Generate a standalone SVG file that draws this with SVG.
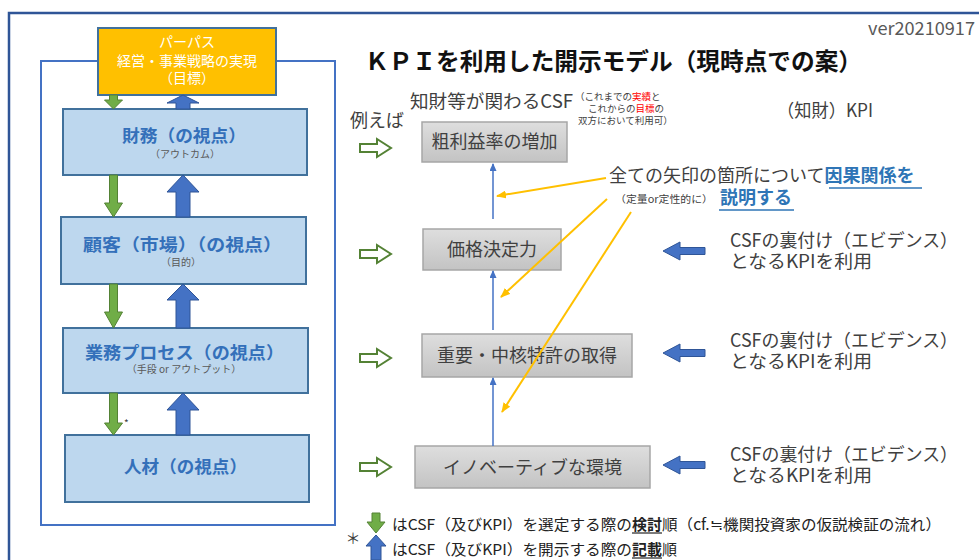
<svg xmlns="http://www.w3.org/2000/svg" width="979" height="560" viewBox="0 0 979 560">
<style>
text{font-family:'Noto Sans CJK JP','Noto Sans',sans-serif;}
.frame{fill:none;stroke:#2F5597;stroke-width:2.5}
.inner{fill:none;stroke:#4472C4;stroke-width:2}
.persp{fill:#BDD7EE;stroke:#41719C;stroke-width:2}
.ptitle{font-size:17px;font-weight:bold;fill:#3470BA}
.psub{font-size:10px;fill:#595959;text-anchor:middle}
.gbox{fill:url(#gg);stroke:#A6A6A6;stroke-width:1.5}
.gtxt{font-size:18px;fill:#404040;text-anchor:middle}
.txt{font-size:18px;fill:#404040}
.note{font-size:9.5px;fill:#404040}
.red{fill:#FF0000}
.garr{fill:#70AD47;stroke:#548235;stroke-width:1}
.barr{fill:#4472C4;stroke:#2F5597;stroke-width:1}
.hollow{fill:#fff;stroke:#548235;stroke-width:2}
.thin{stroke:#4472C4;stroke-width:1.5;fill:none;marker-end:url(#bh)}
.orng{stroke:#FFC000;stroke-width:2;fill:none;marker-end:url(#oh)}
.ul{stroke:#2E75B6;stroke-width:1.5}
.blu{font-weight:bold;fill:#2E75B6}
</style>
<defs>
<linearGradient id="gg" x1="0" y1="0" x2="0" y2="1">
<stop offset="0" stop-color="#DEDEDE"/>
<stop offset="1" stop-color="#C3C3C3"/>
</linearGradient>
<marker id="bh" markerUnits="userSpaceOnUse" markerWidth="8" markerHeight="7" refX="7" refY="3.5" orient="auto">
<path d="M0,0 L8,3.5 L0,7 Z" fill="#4472C4"/>
</marker>
<marker id="oh" markerUnits="userSpaceOnUse" markerWidth="10" markerHeight="8" refX="9" refY="4" orient="auto">
<path d="M0,0 L10,4 L0,8 Z" fill="#FFC000"/>
</marker>
</defs>
<rect width="979" height="560" fill="#fff"/>
<path class="frame" d="M9,560 V13 H979"/>
<text x="975" y="35" font-size="18" fill="#595959" text-anchor="end" textLength="107" lengthAdjust="spacingAndGlyphs">ver20210917</text>
<text x="365" y="70" font-size="24" font-weight="bold" fill="#111" textLength="497" lengthAdjust="spacingAndGlyphs">ＫＰＩを利用した開示モデル（現時点での案）</text>

<rect class="inner" x="41" y="61" width="294" height="464"/>

<g id="purpose">
<rect x="98" y="28" width="178" height="67" fill="#FFC000" stroke="#41719C" stroke-width="2"/>
<text x="187" y="47" font-size="14" fill="#fff" text-anchor="middle">パーパス</text>
<text x="187" y="66" font-size="14" fill="#fff" text-anchor="middle">経営・事業戦略の実現</text>
<text x="187" y="83" font-size="14" fill="#fff" text-anchor="middle">（目標）</text>
</g>
<g id="finance">
<rect class="persp" x="63" y="109" width="244" height="66"/>
<text class="ptitle" x="122" y="142" textLength="124" lengthAdjust="spacingAndGlyphs">財務（の視点）</text>
<text class="psub" x="185" y="158">（アウトカム）</text>
</g>
<g id="customer">
<rect class="persp" x="61" y="217" width="245" height="67"/>
<text class="ptitle" x="83" y="251" textLength="199" lengthAdjust="spacingAndGlyphs">顧客（市場）（の視点）</text>
<text class="psub" x="181" y="266">（目的）</text>
</g>
<g id="process">
<rect class="persp" x="63" y="328" width="245" height="65"/>
<text class="ptitle" x="85" y="359" textLength="199" lengthAdjust="spacingAndGlyphs">業務プロセス（の視点）</text>
<text class="psub" x="184" y="373">（手段 or アウトプット）</text>
</g>
<g id="people">
<rect class="persp" x="65" y="435" width="244" height="67"/>
<text class="ptitle" x="124" y="473" textLength="123" lengthAdjust="spacingAndGlyphs">人材（の視点）</text>
</g>

<g id="csf1">
<rect class="gbox" x="422" y="122" width="145" height="40"/>
<text class="gtxt" x="494.5" y="148">粗利益率の増加</text>
</g>
<g id="csf2">
<rect class="gbox" x="423" y="229" width="138" height="41"/>
<text class="gtxt" x="492" y="256">価格決定力</text>
</g>
<g id="csf3">
<rect class="gbox" x="422" y="334" width="210" height="43"/>
<text class="gtxt" x="527" y="362">重要・中核特許の取得</text>
</g>
<g id="csf4">
<rect class="gbox" x="415" y="446" width="235" height="42"/>
<text class="gtxt" x="532.5" y="474">イノベーティブな環境</text>
</g>

<g id="connectors">
<path class="garr" d="M109.5,95 H117.5 V100 H122.5 L113.5,109 L104.5,100 H109.5 Z"/>
<path class="garr" d="M109.5,175 H117.5 V203 H122.5 L113.5,217 L104.5,203 H109.5 Z"/>
<path class="garr" d="M109.5,284 H117.5 V312 H122.5 L113.5,328 L104.5,312 H109.5 Z"/>
<path class="garr" d="M109.5,393 H117.5 V423 H122.5 L113.5,435 L104.5,423 H109.5 Z"/>
<path class="barr" d="M176,109 V103 H167 L183,95 L199,103 H190 V109 Z"/>
<path class="barr" d="M176,217 V192 H167 L183,175 L199,192 H190 V217 Z"/>
<path class="barr" d="M176,328 V300 H167 L183,284 L199,300 H190 V328 Z"/>
<path class="barr" d="M176,435 V410 H167 L183,393 L199,410 H190 V435 Z"/>
<line class="thin" x1="493" y1="219" x2="493" y2="164"/>
<line class="thin" x1="493" y1="330" x2="493" y2="271"/>
<line class="thin" x1="493" y1="446" x2="493" y2="378"/>
<line class="orng" x1="606" y1="178" x2="497" y2="196"/>
<line class="orng" x1="607" y1="199" x2="501" y2="297"/>
<line class="orng" x1="631" y1="212" x2="502" y2="412"/>
<path class="hollow" d="M360,144 H377 V139 L391,148 L377,157 V152 H360 Z"/>
<path class="hollow" d="M360,250 H377 V245 L391,254 L377,263 V258 H360 Z"/>
<path class="hollow" d="M360,354 H377 V349 L391,358 L377,367 V362 H360 Z"/>
<path class="hollow" d="M360,463 H377 V458 L391,467 L377,476 V471 H360 Z"/>
<path class="barr" d="M705,247.5 H680 V242 L663,251 L680,260 V254.5 H705 Z"/>
<path class="barr" d="M705,349.5 H680 V344 L663,353 L680,362 V356.5 H705 Z"/>
<path class="barr" d="M705,461.5 H680 V456 L663,465 L680,474 V468.5 H705 Z"/>
</g>

<text x="124" y="427" font-size="10" fill="#404040">*</text>

<text class="txt" x="350" y="127">例えば</text>
<text class="txt" x="410" y="108" textLength="163" lengthAdjust="spacingAndGlyphs">知財等が関わるCSF</text>
<text class="note" x="575" y="100">（これまでの<tspan class="red">実績</tspan>と</text>
<text class="note" x="588" y="112">これからの<tspan class="red">目標</tspan>の</text>
<text class="note" x="578" y="124">双方において利用可）</text>
<text class="txt" x="777" y="117" font-size="17" textLength="96" lengthAdjust="spacingAndGlyphs">（知財）KPI</text>

<text class="txt" x="609" y="182">全ての矢印の箇所について<tspan class="blu">因果関係を</tspan></text>
<line class="ul" x1="829" y1="188" x2="922" y2="188"/>
<text x="615" y="203" font-size="10" fill="#404040" textLength="98" lengthAdjust="spacingAndGlyphs">（定量or定性的に）</text>
<text class="txt blu" x="720" y="204">説明する</text>
<line class="ul" x1="719" y1="210" x2="794" y2="210"/>

<text class="txt" x="730" y="247" textLength="228" lengthAdjust="spacingAndGlyphs">CSFの裏付け（エビデンス）</text>
<text class="txt" x="730" y="268" textLength="142" lengthAdjust="spacingAndGlyphs">となるKPIを利用</text>
<text class="txt" x="730" y="347" textLength="228" lengthAdjust="spacingAndGlyphs">CSFの裏付け（エビデンス）</text>
<text class="txt" x="730" y="368" textLength="142" lengthAdjust="spacingAndGlyphs">となるKPIを利用</text>
<text class="txt" x="730" y="461" textLength="228" lengthAdjust="spacingAndGlyphs">CSFの裏付け（エビデンス）</text>
<text class="txt" x="730" y="482" textLength="142" lengthAdjust="spacingAndGlyphs">となるKPIを利用</text>

<g id="legend">
<text x="353" y="544" font-size="15" fill="#404040" text-anchor="middle">＊</text>
<path class="garr" d="M372,513 H380 V522 H385 L376,533 L367,522 H372 Z"/>
<path class="barr" d="M371,560 V546 H366 L376,535 L386,546 H381 V560 Z"/>
<text x="392" y="530" font-size="15" fill="#222" textLength="240" lengthAdjust="spacingAndGlyphs">はCSF（及びKPI）を選定する際の</text>
<text x="632" y="530" font-size="15" font-weight="bold" fill="#222" textLength="30" lengthAdjust="spacingAndGlyphs">検討</text>
<line x1="632" y1="533" x2="662" y2="533" stroke="#222" stroke-width="1.2"/>
<text x="662" y="530" font-size="15" fill="#222" textLength="279" lengthAdjust="spacingAndGlyphs">順（cf.≒機関投資家の仮説検証の流れ）</text>
<text x="392" y="555" font-size="15" fill="#222" textLength="240" lengthAdjust="spacingAndGlyphs">はCSF（及びKPI）を開示する際の</text>
<text x="632" y="555" font-size="15" font-weight="bold" fill="#222" textLength="30" lengthAdjust="spacingAndGlyphs">記載</text>
<line x1="632" y1="558" x2="662" y2="558" stroke="#222" stroke-width="1.2"/>
<text x="662" y="555" font-size="15" fill="#222">順</text>
</g>
</svg>
